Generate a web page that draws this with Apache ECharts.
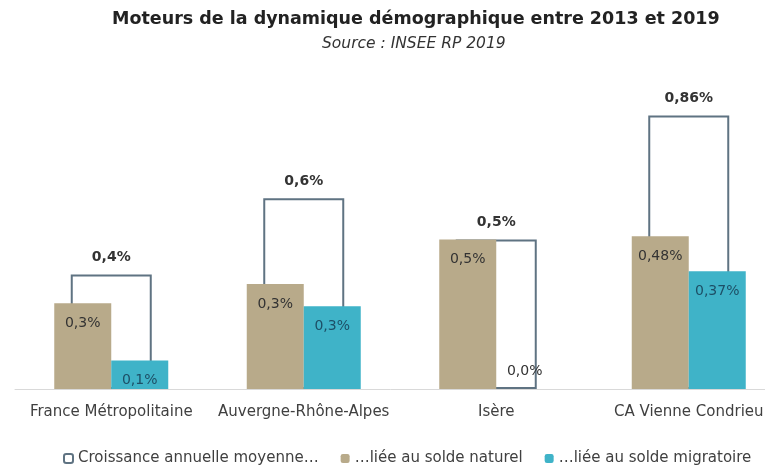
<!DOCTYPE html>
<html lang="fr">
<head>
    <meta charset="UTF-8">
    <title>Moteurs de la dynamique démographique</title>
    <style>
        body { margin: 0; background: #fff; }
        #chart { width: 765px; height: 465px; }
    </style>
</head>
<body>
    <div id="chart"></div>
    <script src="https://cdn.jsdelivr.net/npm/echarts@6/dist/echarts.min.js"></script>
    <script>
        // territoires
        const categories = ['France Métropolitaine', 'Auvergne-Rhône-Alpes', 'Isère', 'CA Vienne Condrieu'];
        // croissance annuelle moyenne (%)
        const croissance = [0.36, 0.60, 0.47, 0.86];
        // ...liée au solde naturel
        const soldeNaturel = [0.27, 0.33, 0.47, 0.48];
        // ...liée au solde migratoire
        const soldeMigratoire = [0.09, 0.26, 0.0, 0.37];
        // nombre de décimales affichées par territoire
        const decimales = [1, 1, 1, 2];

        const font = '"DejaVu Sans", sans-serif';
        const fmt = p => p.value.toFixed(decimales[p.dataIndex]).replace('.', ',') + '%';

        const chart = echarts.init(document.getElementById('chart'));

        const option = {
            animation: false,
            textStyle: { fontFamily: font },
            title: [
                {
                    text: 'Moteurs de la dynamique démographique entre 2013 et 2019',
                    left: 112,
                    top: 10,
                    padding: 0,
                    textStyle: { fontSize: 17.5, fontWeight: 'bold', color: '#222', fontFamily: font }
                },
                {
                    text: 'Source : INSEE RP 2019',
                    left: 322,
                    top: 36,
                    padding: 0,
                    textStyle: { fontSize: 15.5, fontStyle: 'italic', fontWeight: 'normal', color: '#333', fontFamily: font }
                }
            ],
            legend: {
                left: 58,
                top: 446,
                itemWidth: 9,
                itemHeight: 9,
                itemGap: 22,
                textStyle: { fontSize: 15, color: '#404040', fontFamily: font },
                data: ['Croissance annuelle moyenne…', '…liée au solde naturel', '…liée au solde migratoire']
            },
            grid: { left: 15, width: 770, top: 71, bottom: 76, outerBoundsMode: 'none', containLabel: false },
            xAxis: [
                {
                    type: 'category',
                    data: categories,
                    axisTick: { show: false },
                    axisLine: { lineStyle: { color: '#d9d9d9', width: 1 } },
                    axisLabel: { color: '#404040', fontSize: 15, margin: 16, interval: 0 }
                },
                {
                    type: 'category',
                    data: categories,
                    show: false
                }
            ],
            yAxis: {
                type: 'value',
                min: 0,
                max: 1,
                show: false
            },
            series: [
                {
                    name: 'Croissance annuelle moyenne…',
                    type: 'bar',
                    xAxisIndex: 1,
                    z: 1,
                    barWidth: 81,
                    data: croissance,
                    itemStyle: { color: 'rgba(255,255,255,0)', borderColor: '#5f7382', borderWidth: 2 },
                    label: {
                        show: true,
                        position: 'top',
                        distance: 10,
                        formatter: fmt,
                        fontSize: 14,
                        fontWeight: 'bold',
                        color: '#333'
                    }
                },
                {
                    name: '…liée au solde naturel',
                    type: 'bar',
                    z: 3,
                    barWidth: 57,
                    barGap: 0,
                    data: soldeNaturel,
                    itemStyle: { color: '#b8aa8a' },
                    label: {
                        show: true,
                        position: 'insideTop',
                        distance: 13,
                        formatter: fmt,
                        fontSize: 14,
                        color: '#333'
                    }
                },
                {
                    name: '…liée au solde migratoire',
                    type: 'bar',
                    z: 3,
                    barWidth: 57,
                    data: soldeMigratoire.map(v => v === 0
                        ? { value: v, label: { position: 'top', distance: 11, color: '#333' } }
                        : v),
                    itemStyle: { color: '#3fb3c8' },
                    label: {
                        show: true,
                        position: 'insideTop',
                        distance: 13,
                        formatter: fmt,
                        fontSize: 14,
                        color: '#1d4f66'
                    }
                }
            ]
        };

        chart.setOption(option);
    </script>
</body>
</html>
